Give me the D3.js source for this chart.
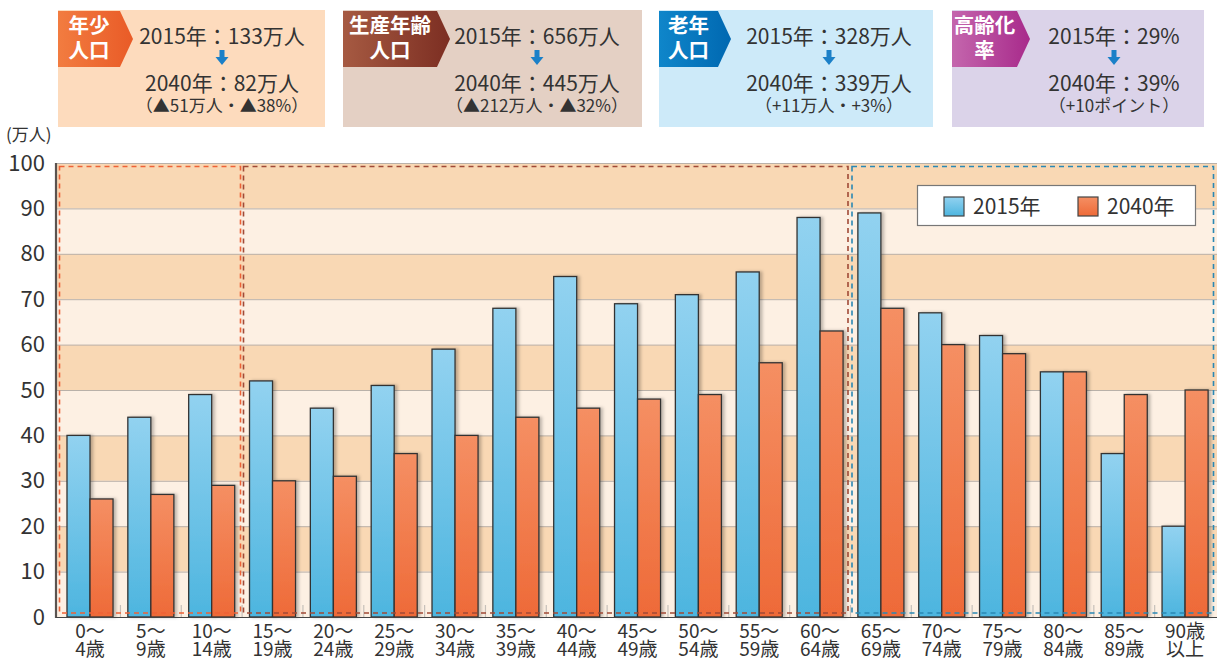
<!DOCTYPE html>
<html>
<head>
<meta charset="utf-8">
<script src="https://cdn.jsdelivr.net/npm/d3@7"></script>
<style>
  body { margin: 0; background: #fff; }
  svg { display: block; font-family: "Noto Sans CJK JP", "Noto Sans", sans-serif; }
</style>
</head>
<body>
<svg id="chart" width="1217" height="660"></svg>
<script>
// chart data
const ageGroups = ["0～\n4歳", "5～\n9歳", "10～\n14歳", "15～\n19歳", "20～\n24歳", "25～\n29歳",
  "30～\n34歳", "35～\n39歳", "40～\n44歳", "45～\n49歳", "50～\n54歳", "55～\n59歳", "60～\n64歳",
  "65～\n69歳", "70～\n74歳", "75～\n79歳", "80～\n84歳", "85～\n89歳", "90歳\n以上"];
const pop2015 = [40, 44, 49, 52, 46, 51, 59, 68, 75, 69, 71, 76, 88, 89, 67, 62, 54, 36, 20];
const pop2040 = [26, 27, 29, 30, 31, 36, 40, 44, 46, 48, 49, 56, 63, 68, 60, 58, 54, 49, 50];
const seriesNames = ["2015年", "2040年"];
const yTicks = [0, 10, 20, 30, 40, 50, 60, 70, 80, 90, 100];
const yUnit = "(万人)";

// summary boxes
const groupTags = ["年少\n人口", "生産年齢\n人口", "老年\n人口", "高齢化\n率"];
const before = ["2015年：133万人", "2015年：656万人", "2015年：328万人", "2015年：29%"];
const after = ["2040年：82万人", "2040年：445万人", "2040年：339万人", "2040年：39%"];
const change = ["（▲51万人・▲38%）", "（▲212万人・▲32%）", "（+11万人・+3%）", "（+10ポイント）"];
// first / last age group in each dashed frame
const groupSpans = [[0, 2], [3, 12], [13, 18]];

const svg = d3.select("#chart");
const defs = svg.append("defs");

function vGrad(id, c1, c2) {
  const g = defs.append("linearGradient").attr("id", id)
    .attr("x1", 0).attr("y1", 0).attr("x2", 0).attr("y2", 1);
  g.append("stop").attr("offset", "0%").attr("stop-color", c1);
  g.append("stop").attr("offset", "100%").attr("stop-color", c2);
}
function hGrad(id, c1, c2) {
  const g = defs.append("linearGradient").attr("id", id)
    .attr("x1", 0).attr("y1", 0).attr("x2", 1).attr("y2", 0);
  g.append("stop").attr("offset", "0%").attr("stop-color", c1);
  g.append("stop").attr("offset", "100%").attr("stop-color", c2);
}
vGrad("g2015", "#92d2f0", "#4db5df");
vGrad("g2040", "#f58f63", "#ee6a38");
hGrad("tag0", "#f27c40", "#e95b27");
hGrad("tag1", "#a65a42", "#7c2e22");
hGrad("tag2", "#0f86ca", "#0068b1");
hGrad("tag3", "#c466ad", "#a82a8b");

const shadow = defs.append("filter").attr("id", "shadow")
  .attr("x", "-20%").attr("y", "-5%").attr("width", "150%").attr("height", "110%");
shadow.append("feDropShadow").attr("dx", 2.5).attr("dy", 0).attr("stdDeviation", 1.5)
  .attr("flood-color", "#000").attr("flood-opacity", 0.25);

// ---------- summary boxes on top ----------
const boxX = [58, 343, 659, 952];
const boxW = [267, 299, 274, 252];
const tagW = [62, 94, 59, 65];
const textX = [222, 537, 829, 1114];
const boxFill = ["#fddbbd", "#e4d0c4", "#cdeaf9", "#dbd3e9"];

groupTags.forEach((tag, i) => {
  const g = svg.append("g");
  g.append("rect").attr("x", boxX[i]).attr("y", 10).attr("width", boxW[i]).attr("height", 117)
    .attr("fill", boxFill[i]);
  const x0 = boxX[i], x1 = boxX[i] + tagW[i];
  g.append("path")
    .attr("d", `M${x0},11 L${x1},11 L${x1 + 13},39 L${x1},67 L${x0},67 Z`)
    .attr("fill", `url(#tag${i})`);
  tag.split("\n").forEach((line, j) => {
    g.append("text").attr("x", x0 + tagW[i] / 2).attr("y", 33 + j * 25)
      .attr("text-anchor", "middle").attr("fill", "#fff")
      .attr("font-size", 20.5).attr("font-weight", "bold").text(line);
  });
  const tx = textX[i];
  g.append("text").attr("x", tx).attr("y", 44).attr("text-anchor", "middle")
    .attr("font-size", 21).attr("fill", "#333").text(before[i]);
  g.append("path")
    .attr("d", `M${tx - 2.5},50 L${tx + 2.5},50 L${tx + 2.5},57 L${tx + 6.5},57 L${tx},65 L${tx - 6.5},57 L${tx - 2.5},57 Z`)
    .attr("fill", "#1b80c8");
  g.append("text").attr("x", tx).attr("y", 91).attr("text-anchor", "middle")
    .attr("font-size", 21).attr("fill", "#333").text(after[i]);
  g.append("text").attr("x", tx).attr("y", 112).attr("text-anchor", "middle")
    .attr("font-size", 17).attr("fill", "#333").text(change[i]);
});

// ---------- plot ----------
const plotLeft = 56, plotRight = 1217, plotTop = 163, plotBottom = 617;
const y = d3.scaleLinear().domain([0, 100]).range([plotBottom, plotTop]);
const x = d3.scaleBand().domain(ageGroups).range([59.6, 1215.5]).paddingInner(0).paddingOuter(0);
const xs = d3.scaleBand().domain(seriesNames).range([7.4, x.bandwidth() - 7.4]);

// alternating bands
const bands = yTicks.slice(0, -1).map((t, i) => [t, yTicks[i + 1]]);
svg.append("g").selectAll("rect").data(bands).join("rect")
  .attr("x", plotLeft).attr("width", plotRight - plotLeft)
  .attr("y", d => y(d[1])).attr("height", d => y(d[0]) - y(d[1]))
  .attr("fill", (d, i) => i % 2 === 1 ? "#f9d8b4" : "#fdf0e3");

// grid lines
svg.append("g").selectAll("line").data(yTicks.slice(1)).join("line")
  .attr("x1", plotLeft).attr("x2", plotRight)
  .attr("y1", d => y(d) + 0.5).attr("y2", d => y(d) + 0.5)
  .attr("stroke", "#b9b1a9").attr("stroke-width", 1);

// small separators between age groups
svg.append("g").selectAll("line").data(ageGroups.slice(1)).join("line")
  .attr("x1", d => x(d)).attr("x2", d => x(d))
  .attr("y1", plotBottom - 12).attr("y2", plotBottom)
  .attr("stroke", "#c6c0ba").attr("stroke-width", 1.2);

// bars
const rows = ageGroups.map((a, i) => ({ age: a, values: [pop2015[i], pop2040[i]] }));
const groups = svg.append("g").selectAll("g").data(rows).join("g")
  .attr("transform", d => `translate(${x(d.age)},0)`);
groups.selectAll("rect").data(d => d.values.map((v, k) => ({ s: seriesNames[k], v, k }))).join("rect")
  .attr("x", d => xs(d.s)).attr("width", xs.bandwidth())
  .attr("y", d => y(d.v)).attr("height", d => y(0) - y(d.v))
  .attr("fill", d => d.k === 0 ? "url(#g2015)" : "url(#g2040)")
  .attr("stroke", "#333").attr("stroke-width", 1.3)
  .attr("filter", "url(#shadow)");

// dashed frames for the three age groups
const frameColors = ["#ee6236", "#a14a36", "#2a88b4"];
const frameX = [[59.5, 240.5], [243.5, 848], [852, 1213.5]];
groupSpans.forEach((span, i) => {
  svg.append("rect")
    .attr("x", frameX[i][0]).attr("y", 166.5)
    .attr("width", frameX[i][1] - frameX[i][0]).attr("height", 613 - 166.5)
    .attr("fill", "none").attr("stroke", frameColors[i]).attr("stroke-width", 1.6)
    .attr("stroke-dasharray", "5,4");
});

// y axis
const yAxis = svg.append("g").attr("transform", `translate(${plotLeft},0)`)
  .call(d3.axisLeft(y).tickValues(yTicks).tickSize(0).tickPadding(11));
yAxis.select(".domain").remove();
yAxis.selectAll("text").attr("font-size", 22).attr("fill", "#333")
  .attr("font-family", "'Noto Sans CJK JP', sans-serif");
svg.append("line").attr("x1", plotLeft).attr("x2", plotLeft).attr("y1", plotTop).attr("y2", plotBottom + 1)
  .attr("stroke", "#5a5350").attr("stroke-width", 2.2);
svg.append("line").attr("x1", plotLeft).attr("x2", plotRight).attr("y1", plotBottom + 0.5).attr("y2", plotBottom + 0.5)
  .attr("stroke", "#444").attr("stroke-width", 1.2);
svg.append("text").attr("x", 6).attr("y", 141).attr("font-size", 17).attr("fill", "#333").text(yUnit);

// x axis with two-line labels
const xAxis = svg.append("g").attr("transform", `translate(0,${plotBottom})`)
  .call(d3.axisBottom(x).tickSize(0).tickPadding(0));
xAxis.select(".domain").remove();
xAxis.selectAll("text").each(function (d) {
  const t = d3.select(this).text("").attr("font-size", 19).attr("fill", "#333")
    .attr("font-family", "'Noto Sans CJK JP', sans-serif").attr("dy", null).attr("y", 21);
  d.split("\n").forEach((line, j) => {
    t.append("tspan").attr("x", 0).attr("dy", j === 0 ? 0 : 18).text(line);
  });
});

// legend
const legend = svg.append("g");
legend.append("rect").attr("x", 917.5).attr("y", 185.5).attr("width", 278).attr("height", 40)
  .attr("fill", "#fff").attr("stroke", "#777").attr("stroke-width", 1.2);
const legX = [944, 1078];
seriesNames.forEach((s, k) => {
  legend.append("rect").attr("x", legX[k]).attr("y", 197).attr("width", 20).attr("height", 19)
    .attr("fill", k === 0 ? "url(#g2015)" : "url(#g2040)").attr("stroke", "#444").attr("stroke-width", 1.2);
  legend.append("text").attr("x", legX[k] + 29).attr("y", 214).attr("font-size", 21)
    .attr("fill", "#333").text(s);
});
</script>
</body>
</html>
